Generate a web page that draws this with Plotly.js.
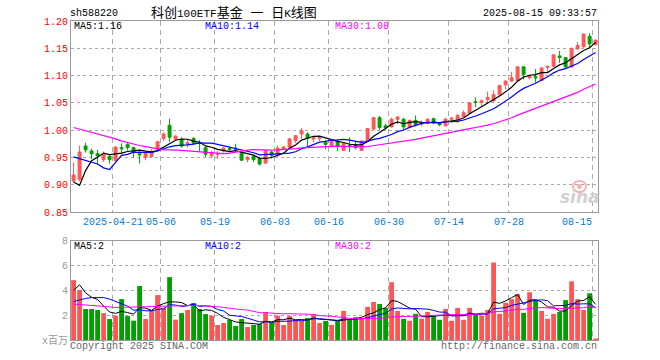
<!DOCTYPE html>
<html><head><meta charset="utf-8">
<script src="https://cdn.plot.ly/plotly-3.0.1.min.js"></script>
<style>html,body{margin:0;padding:0;background:#fff}#chart{width:660px;height:360px}</style>
</head><body><div id="chart"></div>
<script>
// ---- data ----
const dates = [
'2025-04-10','2025-04-11','2025-04-14','2025-04-15','2025-04-16','2025-04-17','2025-04-18','2025-04-21','2025-04-22','2025-04-23','2025-04-24','2025-04-25','2025-04-28','2025-04-29','2025-04-30',
'2025-05-06','2025-05-07','2025-05-08','2025-05-09','2025-05-12','2025-05-13','2025-05-14','2025-05-15','2025-05-16','2025-05-19','2025-05-20','2025-05-21','2025-05-22','2025-05-23','2025-05-26','2025-05-27','2025-05-28','2025-05-29','2025-05-30',
'2025-06-03','2025-06-04','2025-06-05','2025-06-06','2025-06-09','2025-06-10','2025-06-11','2025-06-12','2025-06-13','2025-06-16','2025-06-17','2025-06-18','2025-06-19','2025-06-20','2025-06-23','2025-06-24','2025-06-25','2025-06-26','2025-06-27','2025-06-30',
'2025-07-01','2025-07-02','2025-07-03','2025-07-04','2025-07-07','2025-07-08','2025-07-09','2025-07-10','2025-07-11','2025-07-14','2025-07-15','2025-07-16','2025-07-17','2025-07-18','2025-07-21','2025-07-22','2025-07-23','2025-07-24','2025-07-25','2025-07-28','2025-07-29','2025-07-30','2025-07-31',
'2025-08-01','2025-08-04','2025-08-05','2025-08-06','2025-08-07','2025-08-08','2025-08-11','2025-08-12','2025-08-13','2025-08-14','2025-08-15'];

const opens = [0.907,0.910,0.971,0.962,0.957,0.946,0.952,0.944,0.968,0.974,0.968,0.957,0.950,0.952,0.965,
0.985,1.009,0.983,0.983,0.974,0.985,0.977,0.968,0.953,0.956,0.962,0.966,0.967,0.959,0.946,0.952,0.948,0.940,0.960,
0.954,0.965,0.969,0.981,0.993,0.993,0.984,0.985,0.978,0.971,0.979,0.963,0.972,0.974,0.963,0.980,1.002,1.023,1.008,1.006,
1.020,1.020,1.006,1.018,1.011,1.013,1.021,1.013,1.008,1.020,1.016,1.025,1.031,1.052,1.051,1.056,1.054,1.065,1.083,1.090,1.091,1.116,1.096,
1.098,1.091,1.115,1.117,1.136,1.133,1.116,1.149,1.153,1.172,1.157];
const highs = [0.941,0.972,0.977,0.966,0.964,0.961,0.955,0.971,0.976,0.976,0.970,0.962,0.961,0.965,0.980,
0.996,1.021,0.991,0.987,0.982,0.987,0.982,0.970,0.962,0.962,0.969,0.970,0.975,0.961,0.953,0.954,0.951,0.965,0.962,
0.972,0.971,0.986,0.991,1.004,0.996,0.990,0.987,0.982,0.982,0.983,0.977,0.987,0.980,0.982,1.004,1.024,1.026,1.012,1.023,
1.026,1.023,1.019,1.027,1.018,1.022,1.023,1.015,1.023,1.024,1.030,1.036,1.051,1.060,1.056,1.071,1.073,1.083,1.091,1.107,1.117,1.117,1.102,
1.112,1.116,1.118,1.139,1.145,1.134,1.151,1.162,1.177,1.178,1.166];
const lows = [0.905,0.906,0.959,0.947,0.937,0.942,0.939,0.943,0.957,0.963,0.950,0.939,0.945,0.951,0.963,
0.980,0.979,0.980,0.968,0.968,0.974,0.961,0.951,0.949,0.948,0.959,0.961,0.961,0.944,0.941,0.942,0.935,0.938,0.948,
0.951,0.964,0.967,0.976,0.984,0.970,0.978,0.980,0.965,0.969,0.962,0.962,0.960,0.965,0.962,0.979,1.001,1.000,1.001,1.005,
1.011,1.001,1.004,1.007,1.007,1.011,1.011,1.007,1.007,1.013,1.013,1.023,1.030,1.042,1.045,1.048,1.050,1.062,1.075,1.088,1.090,1.093,1.093,
1.087,1.090,1.107,1.116,1.123,1.113,1.114,1.147,1.151,1.151,1.155];
const closes = [0.918,0.960,0.964,0.957,0.953,0.956,0.946,0.969,0.966,0.968,0.960,0.955,0.959,0.960,0.979,
0.993,0.987,0.989,0.971,0.977,0.976,0.976,0.956,0.959,0.957,0.967,0.965,0.965,0.945,0.950,0.946,0.938,0.962,0.954,
0.967,0.969,0.984,0.990,0.999,0.985,0.986,0.986,0.974,0.980,0.971,0.976,0.970,0.968,0.980,1.003,1.023,1.005,1.004,1.020,
1.024,1.006,1.018,1.010,1.013,1.020,1.014,1.010,1.020,1.022,1.027,1.032,1.050,1.051,1.054,1.060,1.065,1.082,1.090,1.096,1.116,1.102,1.099,
1.096,1.114,1.117,1.138,1.133,1.116,1.150,1.155,1.176,1.158,1.165];
// volume, millions
const volumes = [4.83,4.03,2.50,2.50,2.42,2.17,1.69,1.96,3.30,1.93,1.56,4.35,1.69,2.42,3.62,
2.60,5.07,1.64,2.17,2.42,2.98,2.50,2.09,1.96,1.21,1.37,1.61,1.13,1.69,1.05,1.21,1.29,2.26,1.45,
1.96,1.21,1.93,1.61,1.53,1.77,2.09,1.37,1.54,1.22,1.55,2.35,1.63,1.84,1.76,2.67,3.06,2.90,2.59,4.66,
2.35,1.71,1.55,2.11,1.71,2.27,1.95,1.63,2.51,1.55,2.59,1.63,2.59,2.03,1.95,2.43,6.25,2.11,3.00,3.30,3.70,2.19,3.85,
3.22,2.35,1.71,2.11,2.27,3.22,4.73,3.30,2.43,3.77,0.12];

// moving-average values at the start of the window (earlier days are off-screen)
const ma5Head = [0.905,0.899,0.926,0.944];
const ma10Head = [0.951,0.948,0.945,0.942,0.938,0.931,0.928,0.941,0.954];
const ma30Head = [1.005,1.002,0.999,0.996,0.994,0.991,0.988,0.984,0.980,0.977,0.974,0.972,0.970,0.968,0.966,0.964,0.964,0.964,0.963,0.962,0.961,0.960,0.960,0.959,0.958,0.957,0.958,0.960,0.962];
const vma5Head = [4.00,4.45,3.80,3.45];
const vma10Head = [3.10,3.25,3.35,3.42,3.43,3.42,3.30,3.10,2.90];
const vma30Head = [2.90,2.86,2.80,2.75,2.72,2.69,2.65,2.63,2.63,2.63,2.64,2.66,2.68,2.70,2.72,2.74,2.76,2.78,2.79,2.79,2.79,2.78,2.76,2.74,2.68,2.62,2.55,2.50,2.45];

const tickDates = ['2025-04-21','2025-05-06','2025-05-19','2025-06-03','2025-06-16','2025-06-30','2025-07-14','2025-07-28','2025-08-15'];
const tickLabels = ['2025-04-21','05-06','05-19','06-03','06-16','06-30','07-14','07-28','08-15'];
const priceTicks = [0.85,0.90,0.95,1.00,1.05,1.10,1.15,1.20];
const volTicks = [0,2,4,6,8];
const volTickText = ['x百万','2','4','6','8'];

const headerCode = 'sh588220';
const headerTime = '2025-08-15 09:33:57';
const priceLegend = ['MA5:1.16','MA10:1.14','MA30:1.08'];
const volLegend = ['MA5:2','MA10:2','MA30:2'];

// ---- drawing ----
function movingAvg(vals, n, head) {
  return vals.map((v, i) => {
    if (i < head.length) return head[i];
    let s = 0;
    for (let j = i - n + 1; j <= i; j++) s += vals[j];
    return s / n;
  });
}
const idx = dates.map((d, i) => i);
const RED = '#ff5555', GREEN = '#00a000';
const MONO = '"Liberation Mono", "DejaVu Sans Mono", "Noto Sans CJK SC", monospace';

const L = 71, R = 598, T = 21, B = 340, W = 660, H = 360;
const px = p => (p - L) / (R - L);
const py = p => (B - p) / (B - T);

const traces = [
  {type:'candlestick', x: idx, open: opens, high: highs, low: lows, close: closes,
   xaxis:'x', yaxis:'y', whiskerwidth:0, hoverinfo:'skip',
   increasing:{line:{color:RED, width:1}, fillcolor:RED},
   decreasing:{line:{color:GREEN, width:1}, fillcolor:GREEN}},
  {type:'scatter', mode:'lines', x: idx, y: movingAvg(closes,5,ma5Head), xaxis:'x', yaxis:'y', line:{color:'#000000', width:1.2}, hoverinfo:'skip'},
  {type:'scatter', mode:'lines', x: idx, y: movingAvg(closes,10,ma10Head), xaxis:'x', yaxis:'y', line:{color:'#0000ff', width:1.2}, hoverinfo:'skip'},
  {type:'scatter', mode:'lines', x: idx, y: movingAvg(closes,30,ma30Head), xaxis:'x', yaxis:'y', line:{color:'#ff00ff', width:1.2}, hoverinfo:'skip'},
  {type:'bar', x: idx, y: volumes, xaxis:'x2', yaxis:'y2', width:0.8,
   marker:{color: closes.map((c,i) => c >= opens[i] ? RED : GREEN), line:{width:0}}, hoverinfo:'skip'},
  {type:'scatter', mode:'lines', x: idx, y: movingAvg(volumes,5,vma5Head), xaxis:'x2', yaxis:'y2', line:{color:'#000000', width:1}, hoverinfo:'skip'},
  {type:'scatter', mode:'lines', x: idx, y: movingAvg(volumes,10,vma10Head), xaxis:'x2', yaxis:'y2', line:{color:'#0000ff', width:1}, hoverinfo:'skip'},
  {type:'scatter', mode:'lines', x: idx, y: movingAvg(volumes,30,vma30Head), xaxis:'x2', yaxis:'y2', line:{color:'#ff00ff', width:1}, hoverinfo:'skip'}
];

const tickIdx = tickDates.map(d => dates.indexOf(d));
const gridX = tickIdx.map(i => i - 0.5);
const xRange = [-0.43, 87.4];
const xCommon = {range: xRange, tickvals: gridX, showticklabels:false, ticks:'', showgrid:true,
  gridcolor:'#aaaaaa', griddash:'5px,4px', gridwidth:1, showline:true, mirror:true,
  linecolor:'#999999', linewidth:1, zeroline:false, fixedrange:true, automargin:false};

const annotations = [];
function txt(text, x, y, color, anchor, extra) {
  annotations.push(Object.assign({text, x: px(x), y: py(y), xref:'paper', yref:'paper',
    xanchor: anchor, yanchor:'middle', showarrow:false, borderpad:0,
    font:{family:MONO, size:10, color}}, extra || {}));
}
txt(headerCode, 69, 13, '#000', 'left');
annotations.push({text:'<span style="font-size:13px">科创</span>100ETF<span style="font-size:13px">基金 一 日</span>K<span style="font-size:13px">线图</span>',
  x: px(234), y: py(13), xref:'paper', yref:'paper', xanchor:'center', yanchor:'middle', showarrow:false, borderpad:0,
  font:{family:MONO, size:11, color:'#000'}});
txt(headerTime, 598, 13, '#000', 'right');
const legendX = [73, 204, 334];
const legendC = ['#000000', '#0000ff', '#ff00ff'];
priceLegend.forEach((t,i) => txt(t, legendX[i], 27, legendC[i], 'left'));
volLegend.forEach((t,i) => txt(t, legendX[i], 246, legendC[i], 'left'));
tickLabels.forEach((t,i) => {
  const last = i === tickLabels.length - 1;
  annotations.push({text:t, x: gridX[i], y: py(222), xref:'x', yref:'paper',
    xanchor: last ? 'right' : 'center', yanchor:'middle', showarrow:false, borderpad:0,
    font:{family:MONO, size:10, color:'#0a78d2'}});
});
txt('Copyright 2025 SINA.COM', 69, 346, '#666', 'left');
txt('http://finance.sina.com.cn', 598, 346, '#666', 'right');
annotations.push({text:'sina', x: px(580), y: py(197), xref:'paper', yref:'paper', xanchor:'center', yanchor:'middle',
  showarrow:false, borderpad:0, font:{family:'DejaVu Sans', size:17, color:'#d4d0d0', weight:'bold', style:'italic'}});

const shapes = [
  {type:'circle', xref:'paper', yref:'paper', x0: px(573), x1: px(586), y0: py(192), y1: py(181), line:{color:'#f3b3b3', width:2}, layer:'below'},
  {type:'circle', xref:'paper', yref:'paper', x0: px(577), x1: px(582), y0: py(189), y1: py(184), fillcolor:'#f3b3b3', line:{width:0}, layer:'below'}
];

const layout = {
  width: W, height: H, margin:{l:L, r:W-R, t:T, b:H-B, pad:0},
  paper_bgcolor:'#ffffff', plot_bgcolor:'#ffffff', showlegend:false, hovermode:false,
  xaxis: Object.assign({}, xCommon, {anchor:'y', rangeslider:{visible:false}}),
  xaxis2: Object.assign({}, xCommon, {anchor:'y2'}),
  yaxis: {domain:[0.401,1], range:[0.85,1.20], tickvals: priceTicks, ticktext: priceTicks.map(v => v.toFixed(2)),
    tickfont:{family:MONO, size:10, color:'#ff0000'}, ticks:'', showgrid:true, gridcolor:'#aaaaaa', griddash:'dot',
    showline:true, mirror:true, linecolor:'#999999', linewidth:1, zeroline:false, fixedrange:true, automargin:false},
  yaxis2: {domain:[0,0.311], range:[0,8], tickvals: volTicks, ticktext: volTickText,
    tickfont:{family:MONO, size:10, color:'#999999'}, ticks:'', showgrid:true, gridcolor:'#aaaaaa', griddash:'dot',
    showline:true, mirror:true, linecolor:'#999999', linewidth:1, zeroline:false, fixedrange:true, automargin:false},
  annotations, shapes
};
Plotly.newPlot('chart', traces, layout, {staticPlot:true, displayModeBar:false});
</script></body></html>
